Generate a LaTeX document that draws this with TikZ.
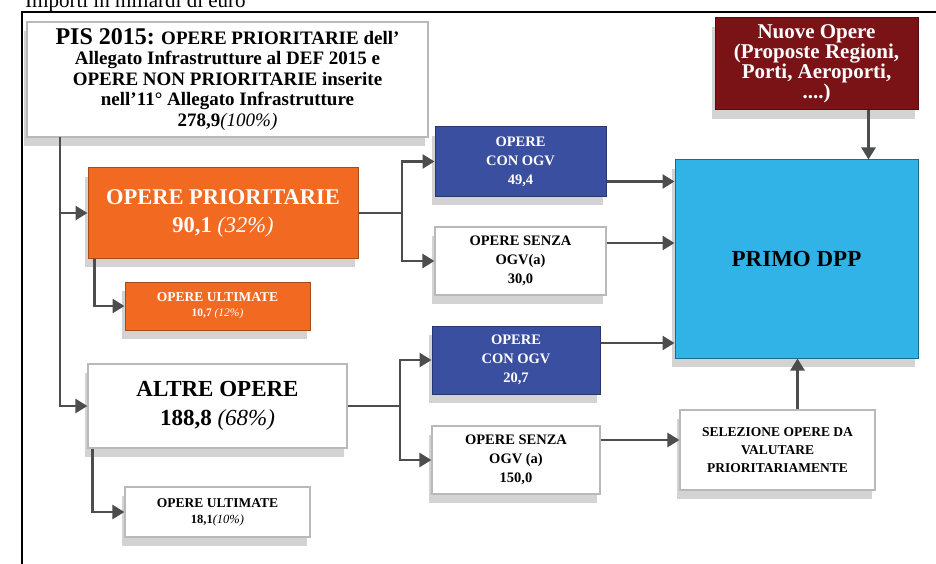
\documentclass[tikz,border=0pt]{standalone}
\usepackage{fontspec}
\setmainfont{Liberation Serif}
\usetikzlibrary{arrows.meta,shadows}

\definecolor{arancio}{RGB}{242,106,34}
\definecolor{blu}{RGB}{59,79,160}
\definecolor{celeste}{RGB}{49,179,231}
\definecolor{bordeaux}{RGB}{122,19,21}
\definecolor{grigio}{RGB}{77,77,77}

\tikzset{
  box/.style={rectangle,inner sep=2pt,align=center,
    drop shadow={shadow xshift=-3pt,shadow yshift=-9pt,opacity=0.35,fill=gray}},
  bianco/.style={box,fill=white,draw=gray!55,line width=1.2pt,text=black},
  arancione/.style={box,fill=arancio,draw=arancio!70!black,line width=1pt,text=white},
  bluebox/.style={box,fill=blu,draw=blu!70!black,line width=1pt,text=white},
  testo/.style 2 args={font=\bfseries\fontsize{#1}{#2}\selectfont},
  freccia/.style={draw=grigio,line width=2.6pt,-{Triangle[length=12pt,width=14pt]}},
  linea/.style={draw=grigio,line width=2.6pt}
}

\begin{document}
\begin{tikzpicture}[x=1pt,y=-1pt]
\useasboundingbox (0,0) rectangle (936,564);
\begin{scope}
\clip (0,0) rectangle (936,11);
\node[anchor=base west,inner sep=0pt,font=\fontsize{21}{24}\selectfont] (unita) at (25,8) {Importi in miliardi di euro};
\end{scope}
\draw[line width=2pt] (22,564) -- (22,12) -- (936,12);

\node[bianco,testo={19}{20.5},minimum width=401pt,minimum height=115pt] (pis) at (227.5,79.5)
  {{\fontsize{24}{20.5}\selectfont PIS 2015:} OPERE PRIORITARIE dell'\\
   Allegato Infrastrutture al DEF 2015 e\\
   OPERE NON PRIORITARIE inserite\\
   nell'11° Allegato Infrastrutture\\
   278,9\textit{\mdseries(100\%)}};

\node[arancione,testo={22.5}{28},minimum width=270pt,minimum height=90pt] (prio) at (223,213)
  {OPERE PRIORITARIE\\ 90,1 \textit{\mdseries(32\%)}};
\node[arancione,testo={13.5}{15},minimum width=185pt,minimum height=48pt] (prioult) at (217.5,306)
  {OPERE ULTIMATE\\ {\fontsize{11.5}{15}\selectfont 10,7 \textit{\mdseries(12\%)}}};

\node[bianco,testo={23}{29},minimum width=259pt,minimum height=84pt] (altre) at (217.5,406)
  {ALTRE OPERE\\ 188,8 \textit{\mdseries(68\%)}};
\node[bianco,testo={13.5}{16},minimum width=185pt,minimum height=50pt] (altreult) at (217.5,512)
  {OPERE ULTIMATE\\ {\fontsize{12.5}{16}\selectfont 18,1\textit{\mdseries(10\%)}}};

\node[bluebox,testo={14.5}{19},minimum width=171pt,minimum height=69pt] (ogva) at (520.5,161.5)
  {OPERE\\ CON OGV\\ 49,4};
\node[bianco,testo={14.5}{19},minimum width=171pt,minimum height=68pt] (senzaa) at (520.5,261)
  {OPERE SENZA\\ OGV(a)\\ 30,0};
\node[bluebox,testo={14.5}{19},minimum width=168pt,minimum height=68pt] (ogvb) at (516,360)
  {OPERE\\ CON OGV\\ 20,7};
\node[bianco,testo={14.5}{19},minimum width=168pt,minimum height=68pt] (senzab) at (516,460)
  {OPERE SENZA\\ OGV (a)\\ 150,0};

\node[box,testo={23}{26},fill=celeste,draw=celeste!60!black,line width=1pt,minimum width=243pt,
  minimum height=198pt] (primo) at (796.5,259) {PRIMO DPP};
\node[box,testo={21}{19},fill=bordeaux,draw=bordeaux!70!black,line width=1pt,text=white,
  minimum width=203pt,minimum height=92pt] (nuove) at (816.5,64)
  {Nuove Opere\\ (Proposte Regioni,\\ Porti, Aeroporti,\\ ....)};
\node[bianco,testo={13.5}{18},minimum width=195pt,minimum height=80pt] (sel) at (777.5,450)
  {SELEZIONE OPERE DA\\ VALUTARE\\ PRIORITARIAMENTE};

\coordinate (tronco) at (60,137);
\draw[freccia] (tronco) |- (prio.west);
\draw[freccia] (tronco) |- (altre.west);
\draw[freccia] ([xshift=7pt]prio.south west) |- (prioult.west);
\draw[freccia] ([xshift=5pt]altre.south west) |- (altreult.west);

\coordinate (foa) at (402,213);
\coordinate (fob) at (400,406);
\draw[linea] (prio.east) -- (foa);
\draw[linea] (altre.east) -- (fob);
\foreach \f/\a/\b in {foa/ogva/senzaa,fob/ogvb/senzab}{
  \draw[freccia] (\f) |- (\a.west);
  \draw[freccia] (\f) |- (\b.west);
}

\coordinate (pa) at ([yshift=-20pt]ogva.east);
\coordinate (pb) at ([yshift=18pt]senzaa.east);
\coordinate (pc) at ([yshift=17pt]ogvb.east);
\coordinate (pd) at ([yshift=20pt]senzab.east);
\foreach \p in {pa,pb,pc}
  \draw[freccia] (\p) -- (\p -| primo.west);
\draw[freccia] (pd) -- (pd -| sel.west);

\coordinate (ps) at ([xshift=20pt]sel.north);
\draw[freccia] (ps) -- (ps |- primo.south);
\coordinate (pn) at ([xshift=52pt]nuove.south);
\draw[freccia] (pn) -- (pn |- primo.north);
\end{tikzpicture}
\end{document}
